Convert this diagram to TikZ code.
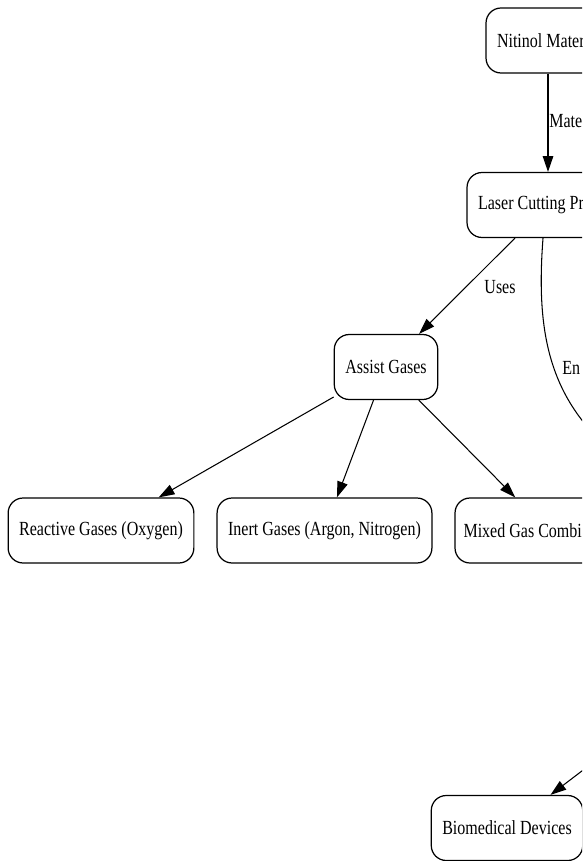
\documentclass[tikz,border=0pt]{standalone}
\usepackage{fontspec}
\setmainfont{Liberation Serif}[FakeStretch=0.8]
\usetikzlibrary{arrows.meta}
\tikzset{
	box/.style={draw, rounded corners=0.3cm, minimum height=1.3cm, inner xsep=0.22cm, line width=0.7pt, font=\fontsize{11.4}{13}\selectfont},
	cutbox/.style={box, align=flush left},
	edge/.style={line width=0.6pt, -{Triangle[length=9pt,width=6pt]}},
	elabel/.style={inner sep=0pt, font=\fontsize{11.4}{13}\selectfont},
}
\begin{document}
\begin{tikzpicture}[x=0.02cm, y=-0.02cm]
	\useasboundingbox (0,0) rectangle (582,861);
	\clip (0,0) rectangle (582,861);
	% nodes (the right ones run past the edge)
	\node[cutbox, text width=2.04cm] (nitinol) at (548,40.5) {Nitinol Mater};
	\node[cutbox, text width=2.8cm] (laser) at (548,205) {Laser Cutting Pr};
	\node[box, minimum width=2.02cm] (assist) at (386,367) {Assist Gases};
	\node[box, minimum width=3.66cm] (reactive) at (101,530.5) {Reactive Gases (Oxygen)};
	\node[box, minimum width=4.26cm] (inert) at (324.5,530.5) {Inert Gases (Argon, Nitrogen)};
	\node[cutbox, text width=3.38cm, inner xsep=0.17cm] (mixed) at (548,530.5) {Mixed Gas Combi};
	\node[box, minimum width=2.96cm] (bio) at (507,828) {Biomedical Devices};
	\coordinate (enfree) at (610,450);
	\coordinate (biofree) at (620,742);
	% edges
	\draw[edge] (nitinol) -- (laser);
	\draw[edge] (laser) -- (assist);
	\draw[line width=0.6pt] ([xshift=-0.1cm]laser.south) .. controls (536,330) and (548,395) .. (enfree);
	\draw[edge] (assist) -- (reactive);
	\draw[edge] (assist) -- (inert);
	\draw[edge] (assist) -- (mixed);
	\draw[edge] (biofree) -- (bio);
	% edge labels
	\node[elabel, anchor=west] (lmat) at (549,121) {Mate};
	\node[elabel] (luses) at (500,287) {Uses};
	\node[elabel, anchor=west] (len) at (562,368) {En};
\end{tikzpicture}
\end{document}
